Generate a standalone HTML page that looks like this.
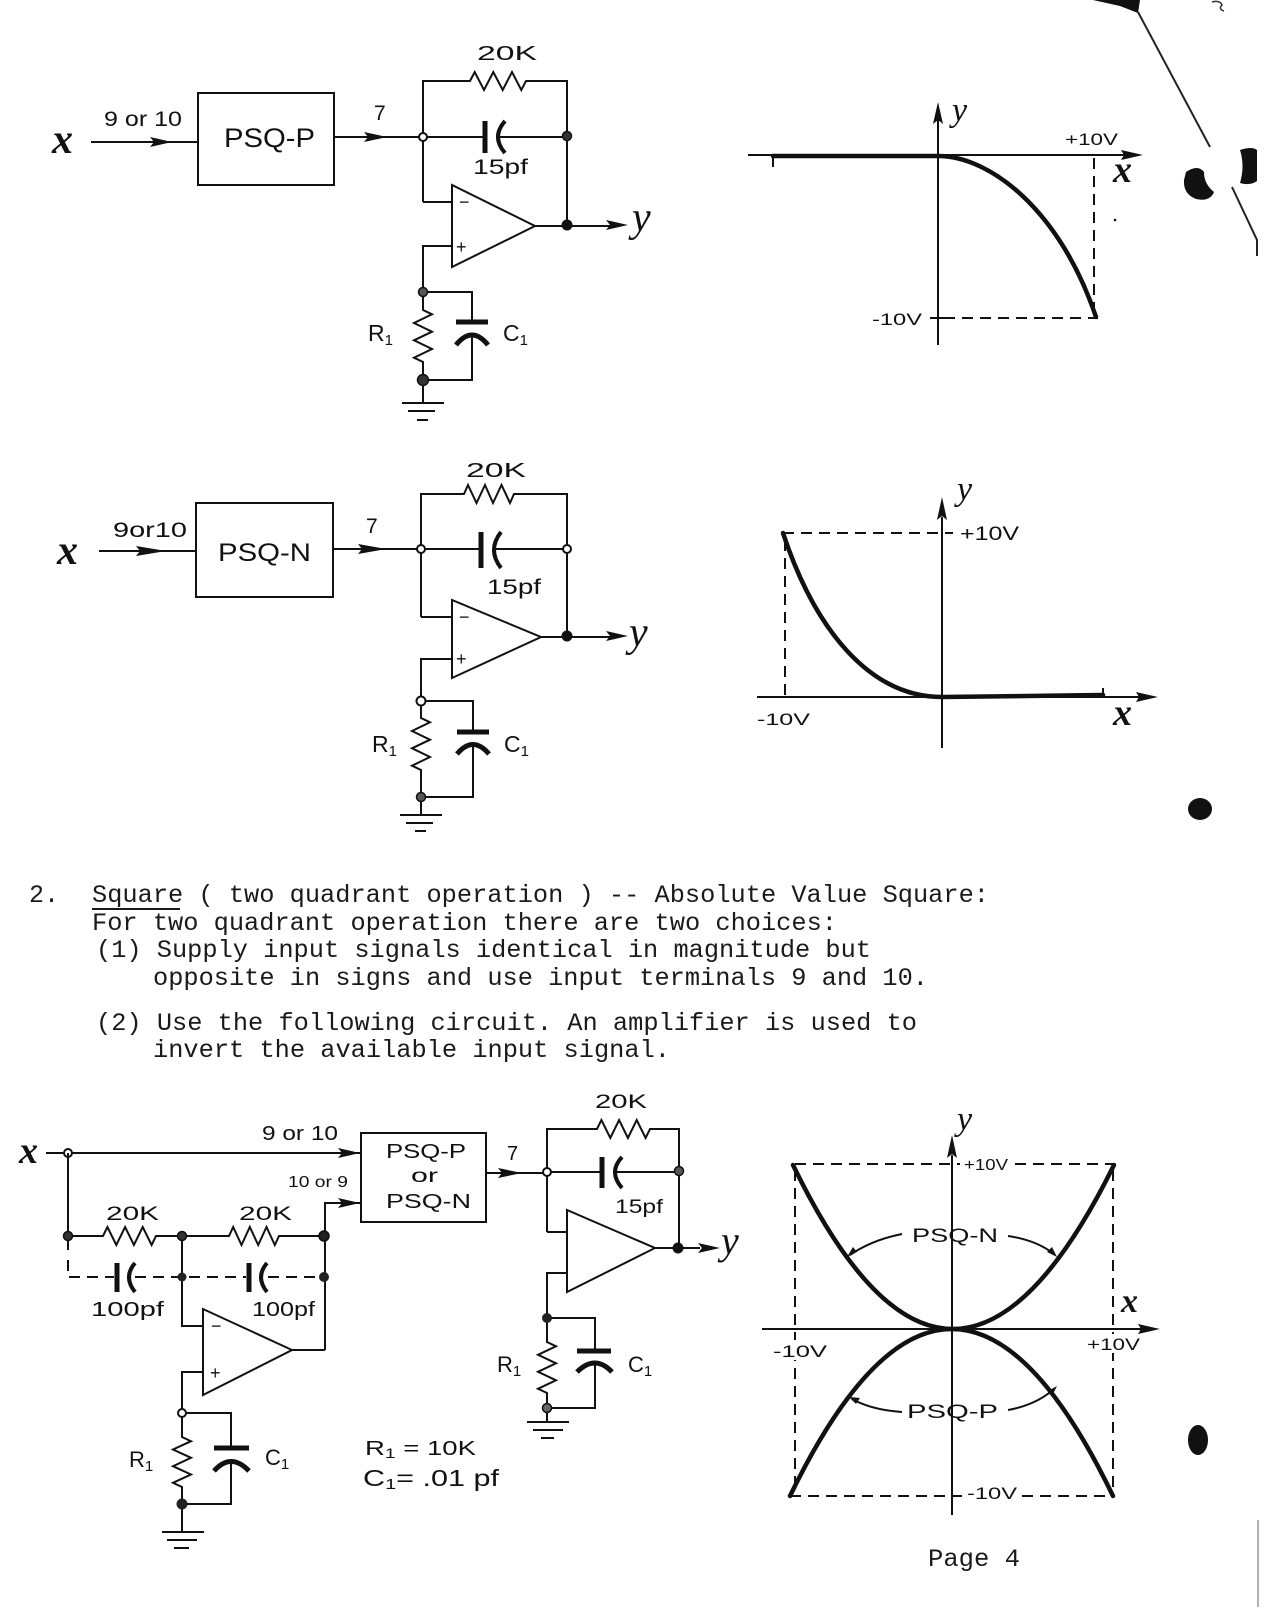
<!DOCTYPE html>
<html><head><meta charset="utf-8"><style>
html,body{margin:0;padding:0;background:#fff;}
svg{display:block;}
.l{stroke:#111;stroke-width:2;fill:none;}
.t{stroke:#111;stroke-width:4.5;fill:none;stroke-linecap:round;}
.d{stroke:#111;stroke-width:2;fill:none;stroke-dasharray:11,7;}
.s{font-family:"Liberation Sans",sans-serif;fill:#111;}
.m{font-family:"Liberation Mono",monospace;fill:#1a1a1a;font-size:25px;}
.i{font-family:"Liberation Serif",serif;font-style:italic;fill:#111;}
.xb{font-weight:bold;}
</style></head><body>
<svg width="1275" height="1619" viewBox="0 0 1275 1619" xmlns="http://www.w3.org/2000/svg">
<rect width="1275" height="1619" fill="#fff"/>

<!-- ===== Circuit A (top) ===== -->
<text class="i xb" x="52" y="153" font-size="42">x</text>
<line class="l" x1="91" y1="142" x2="198" y2="142"/>
<polygon points="172,142 150,137 154,142 150,147" fill="#111"/>
<text class="s" x="104" y="126" font-size="21" textLength="78" lengthAdjust="spacingAndGlyphs">9 or 10</text>
<rect class="l" x="198" y="93" width="136" height="92"/>
<text class="s" x="224" y="147" font-size="27" textLength="91" lengthAdjust="spacingAndGlyphs">PSQ-P</text>
<line class="l" x1="334" y1="137" x2="423" y2="137"/>
<polygon points="387,137 364,132 368,137 364,142" fill="#111"/>
<text class="s" x="374" y="120" font-size="21">7</text>
<polyline class="l" points="423,202 423,81 470,81 474.7,72 484,90 493.3,72 502.7,90 512,72 521.3,90 526,81 567,81 567,224"/>
<text class="s" x="477" y="60" font-size="20" textLength="60" lengthAdjust="spacingAndGlyphs">20K</text>
<line class="l" x1="423" y1="137" x2="483" y2="137"/>
<line x1="485" y1="121" x2="485" y2="153" stroke="#111" stroke-width="5"/>
<path d="M505,121 Q491,137 505,153" stroke="#111" stroke-width="4" fill="none"/>
<line class="l" x1="498" y1="137" x2="567" y2="137"/>
<text class="s" x="473" y="174" font-size="21" textLength="55" lengthAdjust="spacingAndGlyphs">15pf</text>
<circle cx="423" cy="137" r="4" fill="#fff" stroke="#111" stroke-width="2"/>
<circle cx="567" cy="136" r="4.5" fill="#333" stroke="#111" stroke-width="1.5"/>
<polyline class="l" points="423,202 452,202"/>
<polygon class="l" points="452,185 452,267 535,226"/>
<text class="s" x="459" y="208" font-size="18">−</text>
<text class="s" x="456" y="253" font-size="18">+</text>
<polyline class="l" points="452,246 423,246 423,310 432,314.3 414,323 432,331.7 414,340.3 432,349 414,357.7 423,362 423,403"/>
<line class="l" x1="535" y1="226" x2="610" y2="226"/>
<circle cx="567" cy="225" r="5.5" fill="#111"/>
<polygon points="628,225 606,220 610,225 606,230" fill="#111"/>
<text class="i" x="632" y="231" font-size="42">y</text>
<polyline class="l" points="423,292 472,292 472,322"/>
<line x1="456" y1="322" x2="488" y2="322" stroke="#111" stroke-width="5"/>
<path d="M456,345 Q472,325 488,345" stroke="#111" stroke-width="5" fill="none"/>
<polyline class="l" points="472,335 472,380 423,380"/>
<circle cx="423" cy="292" r="4.5" fill="#555" stroke="#111" stroke-width="1.5"/>
<circle cx="423" cy="380" r="5.5" fill="#333" stroke="#111" stroke-width="1.5"/>
<line class="l" x1="402" y1="403" x2="444" y2="403" stroke-width="2.5"/>
<line class="l" x1="408" y1="411" x2="435" y2="411" stroke-width="2.5"/>
<line class="l" x1="417" y1="420" x2="428" y2="420" stroke-width="3"/>
<text class="s" x="368" y="341" font-size="23">R<tspan font-size="15" dy="4">1</tspan></text>
<text class="s" x="503" y="341" font-size="23">C<tspan font-size="15" dy="4">1</tspan></text>

<!-- ===== Graph A ===== -->
<line class="l" x1="748" y1="155" x2="1126" y2="155"/>
<polygon points="1143,155 1121,150 1124,155 1121,160" fill="#111"/>
<path class="t" d="M773,156 L938,156 C990,156 1060,210 1096,317"/>
<line class="l" x1="773" y1="156" x2="773" y2="167"/>
<line class="l" x1="938" y1="120" x2="938" y2="345"/>
<polygon points="938,102 933,124 938,120 943,124" fill="#111"/>
<text class="i" x="952" y="121" font-size="34">y</text>
<text class="s" x="1065" y="145" font-size="17" textLength="53" lengthAdjust="spacingAndGlyphs">+10V</text>
<text class="i xb" x="1113" y="182" font-size="38">x</text>
<line class="d" x1="1094" y1="158" x2="1094" y2="315"/>
<line class="d" x1="944" y1="318" x2="1098" y2="318"/>
<line class="l" x1="930" y1="318" x2="946" y2="318"/>
<text class="s" x="872" y="325" font-size="17" textLength="50" lengthAdjust="spacingAndGlyphs">-10V</text>
<circle cx="1115" cy="220" r="1.3" fill="#111"/>

<!-- ===== Circuit B (middle) ===== -->
<text class="i xb" x="57" y="564" font-size="42">x</text>
<line class="l" x1="99" y1="551" x2="196" y2="551"/>
<polygon points="166,551 136,546 140,551 136,556" fill="#111"/>
<text class="s" x="113" y="537" font-size="21" textLength="74" lengthAdjust="spacingAndGlyphs">9or10</text>
<rect class="l" x="196" y="503" width="137" height="94"/>
<text class="s" x="218" y="561" font-size="25" textLength="93" lengthAdjust="spacingAndGlyphs">PSQ-N</text>
<line class="l" x1="333" y1="549" x2="421" y2="549"/>
<polygon points="386,549 358,544 362,549 358,554" fill="#111"/>
<text class="s" x="366" y="533" font-size="21">7</text>
<polyline class="l" points="421,617 421,494 464,494 468,485 476.5,503 485,485 493,503 501.5,485 510,503 514,494 567,494 567,637"/>
<text class="s" x="466" y="477" font-size="20" textLength="60" lengthAdjust="spacingAndGlyphs">20K</text>
<line class="l" x1="421" y1="549" x2="479" y2="549"/>
<line x1="481" y1="532" x2="481" y2="568" stroke="#111" stroke-width="5"/>
<path d="M501,532 Q487,550 501,568" stroke="#111" stroke-width="4" fill="none"/>
<line class="l" x1="494" y1="549" x2="567" y2="549"/>
<text class="s" x="487" y="594" font-size="21" textLength="54" lengthAdjust="spacingAndGlyphs">15pf</text>
<circle cx="421" cy="549" r="4" fill="#fff" stroke="#111" stroke-width="2"/>
<circle cx="567" cy="549" r="4" fill="#fff" stroke="#111" stroke-width="2"/>
<line class="l" x1="421" y1="617" x2="452" y2="617"/>
<polygon class="l" points="452,600 452,678 541,637"/>
<text class="s" x="459" y="623" font-size="18">−</text>
<text class="s" x="456" y="665" font-size="18">+</text>
<polyline class="l" points="452,659 421,659 421,718 430,722.3 412,731 430,739.7 412,748.3 430,757 412,765.7 421,770 421,815"/>
<line class="l" x1="541" y1="637" x2="610" y2="637"/>
<circle cx="567" cy="636" r="5.5" fill="#111"/>
<polygon points="628,636 606,631 610,636 606,641" fill="#111"/>
<text class="i" x="629" y="646" font-size="42">y</text>
<polyline class="l" points="421,701 473,701 473,732"/>
<line x1="457" y1="732" x2="489" y2="732" stroke="#111" stroke-width="5"/>
<path d="M457,754 Q473,735 489,754" stroke="#111" stroke-width="5" fill="none"/>
<polyline class="l" points="473,744 473,797 421,797"/>
<circle cx="421" cy="701" r="4.5" fill="#fff" stroke="#111" stroke-width="2"/>
<circle cx="421" cy="797" r="4.5" fill="#555" stroke="#111" stroke-width="1.5"/>
<line class="l" x1="400" y1="815" x2="442" y2="815" stroke-width="2.5"/>
<line class="l" x1="406" y1="823" x2="433" y2="823" stroke-width="2.5"/>
<line class="l" x1="415" y1="831" x2="426" y2="831" stroke-width="3"/>
<text class="s" x="372" y="752" font-size="23">R<tspan font-size="15" dy="4">1</tspan></text>
<text class="s" x="504" y="752" font-size="23">C<tspan font-size="15" dy="4">1</tspan></text>

<!-- ===== Graph B ===== -->
<line class="l" x1="757" y1="697" x2="1140" y2="697"/>
<polygon points="1158,697 1136,692 1139,697 1136,702" fill="#111"/>
<line class="l" x1="942" y1="517" x2="942" y2="748"/>
<polygon points="942,497 937,520 942,516 947,520" fill="#111"/>
<text class="i" x="957" y="500" font-size="34">y</text>
<text class="s" x="960" y="540" font-size="19" textLength="59" lengthAdjust="spacingAndGlyphs">+10V</text>
<line class="d" x1="783" y1="533" x2="953" y2="533"/>
<line class="d" x1="785" y1="540" x2="785" y2="697"/>
<path class="t" d="M783,533 C815,630 870,697 942,697 L1103,695"/>
<line class="l" x1="1103" y1="688" x2="1103" y2="697"/>
<text class="s" x="757" y="725" font-size="17" textLength="53" lengthAdjust="spacingAndGlyphs">-10V</text>
<text class="i xb" x="1113" y="725" font-size="38">x</text>

<!-- ===== Text ===== -->
<text class="m" x="29" y="902">2.</text>
<text class="m" x="92" y="902" textLength="897" lengthAdjust="spacingAndGlyphs">Square ( two quadrant operation ) -- Absolute Value Square:</text>
<line x1="92" y1="909" x2="180" y2="909" stroke="#1a1a1a" stroke-width="2"/>
<text class="m" x="92" y="930" textLength="745" lengthAdjust="spacingAndGlyphs">For two quadrant operation there are two choices:</text>
<text class="m" x="96" y="957" textLength="775" lengthAdjust="spacingAndGlyphs">(1) Supply input signals identical in magnitude but</text>
<text class="m" x="153" y="985" textLength="775" lengthAdjust="spacingAndGlyphs">opposite in signs and use input terminals 9 and 10.</text>
<text class="m" x="96" y="1030" textLength="821" lengthAdjust="spacingAndGlyphs">(2) Use the following circuit. An amplifier is used to</text>
<text class="m" x="153" y="1057" textLength="517" lengthAdjust="spacingAndGlyphs">invert the available input signal.</text>

<!-- ===== Circuit C (bottom left) ===== -->
<text class="i xb" x="19" y="1163" font-size="38">x</text>
<line class="l" x1="46" y1="1153" x2="361" y2="1153"/>
<polygon points="360,1153 338,1148 342,1153 338,1158" fill="#111"/>
<circle cx="68" cy="1153" r="4" fill="#fff" stroke="#111" stroke-width="2"/>
<text class="s" x="262" y="1140" font-size="20" textLength="76" lengthAdjust="spacingAndGlyphs">9 or 10</text>
<rect class="l" x="361" y="1133" width="125" height="89"/>
<text class="s" x="386" y="1158" font-size="20" textLength="80" lengthAdjust="spacingAndGlyphs">PSQ-P</text>
<text class="s" x="411" y="1182" font-size="19" textLength="27" lengthAdjust="spacingAndGlyphs">or</text>
<text class="s" x="386" y="1208" font-size="20" textLength="85" lengthAdjust="spacingAndGlyphs">PSQ-N</text>
<text class="s" x="288" y="1187" font-size="16" textLength="60" lengthAdjust="spacingAndGlyphs">10 or 9</text>
<polyline class="l" points="325,1350 325,1203 361,1203"/>
<polygon points="360,1203 338,1198 342,1203 338,1208" fill="#111"/>
<line class="l" x1="68" y1="1153" x2="68" y2="1250"/>
<polyline class="l" points="68,1236 103,1236 107.4,1227 116.3,1245 125.1,1227 133.9,1245 142.7,1227 151.6,1245 156,1236 229,1236 233.2,1227 241.5,1245 249.8,1227 258.2,1245 266.5,1227 274.8,1245 279,1236 325,1236"/>
<text class="s" x="106" y="1220" font-size="19" textLength="53" lengthAdjust="spacingAndGlyphs">20K</text>
<text class="s" x="239" y="1220" font-size="19" textLength="53" lengthAdjust="spacingAndGlyphs">20K</text>
<path class="d" d="M68,1260 L68,1277 L114,1277" stroke-dasharray="9,7"/>
<line x1="117" y1="1263" x2="117" y2="1292" stroke="#111" stroke-width="5"/>
<path d="M135,1263 Q123,1277 135,1292" stroke="#111" stroke-width="4" fill="none"/>
<line class="d" x1="135" y1="1277" x2="246" y2="1277" stroke-dasharray="9,7"/>
<line x1="249" y1="1263" x2="249" y2="1292" stroke="#111" stroke-width="5"/>
<path d="M267,1263 Q255,1277 267,1292" stroke="#111" stroke-width="4" fill="none"/>
<line class="d" x1="268" y1="1277" x2="324" y2="1277" stroke-dasharray="9,7"/>
<text class="s" x="91" y="1316" font-size="20" textLength="73" lengthAdjust="spacingAndGlyphs">100pf</text>
<text class="s" x="252" y="1316" font-size="20" textLength="63" lengthAdjust="spacingAndGlyphs">100pf</text>
<polyline class="l" points="182,1236 182,1326 203,1326"/>
<circle cx="68" cy="1236" r="4.5" fill="#333" stroke="#111" stroke-width="1.5"/>
<circle cx="182" cy="1236" r="4.5" fill="#333" stroke="#111" stroke-width="1.5"/>
<circle cx="324" cy="1236" r="5" fill="#222" stroke="#111" stroke-width="1.5"/>
<circle cx="182" cy="1277" r="4.5" fill="#222"/>
<circle cx="324" cy="1277" r="5" fill="#222"/>
<polygon class="l" points="203,1309 203,1395 292,1350"/>
<text class="s" x="211" y="1332" font-size="18">−</text>
<text class="s" x="210" y="1379" font-size="18">+</text>
<line class="l" x1="292" y1="1350" x2="325" y2="1350"/>
<polyline class="l" points="203,1372 182,1372 182,1437 191,1441.2 173,1449.5 191,1457.8 173,1466.2 191,1474.5 173,1482.8 182,1487 182,1532"/>
<polyline class="l" points="182,1413 231,1413 231,1448"/>
<line x1="214" y1="1448" x2="249" y2="1448" stroke="#111" stroke-width="5"/>
<path d="M214,1471 Q231,1452 249,1471" stroke="#111" stroke-width="5" fill="none"/>
<polyline class="l" points="231,1461 231,1504 182,1504"/>
<circle cx="182" cy="1413" r="4" fill="#fff" stroke="#111" stroke-width="2"/>
<circle cx="182" cy="1504" r="5.5" fill="#222"/>
<line class="l" x1="162" y1="1532" x2="204" y2="1532" stroke-width="2.5"/>
<line class="l" x1="167" y1="1540" x2="197" y2="1540" stroke-width="2.5"/>
<line class="l" x1="174" y1="1548" x2="189" y2="1548" stroke-width="3"/>
<text class="s" x="129" y="1467" font-size="22">R<tspan font-size="15" dy="4">1</tspan></text>
<text class="s" x="265" y="1465" font-size="22">C<tspan font-size="15" dy="4">1</tspan></text>
<text class="s" x="365" y="1455" font-size="20" textLength="111" lengthAdjust="spacingAndGlyphs">R<tspan font-size="14" dy="3">1</tspan><tspan dy="-3"> = 10K</tspan></text>
<text class="s" x="363" y="1486" font-size="23" textLength="136" lengthAdjust="spacingAndGlyphs">C<tspan font-size="15" dy="3">1</tspan><tspan dy="-3">= .01 pf</tspan></text>

<!-- ===== Circuit D (bottom right opamp) ===== -->
<line class="l" x1="486" y1="1173" x2="547" y2="1173"/>
<polygon points="522,1173 498,1168 502,1173 498,1178" fill="#111"/>
<text class="s" x="507" y="1160" font-size="20">7</text>
<polyline class="l" points="547,1232 547,1129 597,1129 601.4,1120 610.3,1138 619.1,1120 627.9,1138 636.7,1120 645.6,1138 650,1129 679,1129 679,1248"/>
<text class="s" x="595" y="1108" font-size="19" textLength="52" lengthAdjust="spacingAndGlyphs">20K</text>
<line class="l" x1="547" y1="1172" x2="600" y2="1172"/>
<line x1="602" y1="1157" x2="602" y2="1188" stroke="#111" stroke-width="5"/>
<path d="M622,1157 Q608,1172 622,1188" stroke="#111" stroke-width="4" fill="none"/>
<line class="l" x1="615" y1="1172" x2="679" y2="1172"/>
<text class="s" x="615" y="1213" font-size="19" textLength="48" lengthAdjust="spacingAndGlyphs">15pf</text>
<circle cx="547" cy="1172" r="4" fill="#fff" stroke="#111" stroke-width="2"/>
<circle cx="679" cy="1171" r="4.5" fill="#555" stroke="#111" stroke-width="1.5"/>
<line class="l" x1="547" y1="1232" x2="567" y2="1232"/>
<polygon class="l" points="567,1210 567,1292 655,1248"/>
<line class="l" x1="655" y1="1248" x2="700" y2="1248"/>
<circle cx="678" cy="1248" r="5.5" fill="#111"/>
<polygon points="720,1248 698,1243 702,1248 698,1253" fill="#111"/>
<text class="i" x="721" y="1254" font-size="40">y</text>
<polyline class="l" points="567,1273 547,1273 547,1342 556,1346.3 538,1354.8 556,1363.3 538,1371.8 556,1380.3 538,1388.8 547,1393 547,1422"/>
<polyline class="l" points="547,1318 595,1318 595,1351"/>
<line x1="577" y1="1351" x2="611" y2="1351" stroke="#111" stroke-width="5"/>
<path d="M577,1372 Q595,1354 612,1372" stroke="#111" stroke-width="5" fill="none"/>
<polyline class="l" points="595,1363 595,1408 547,1408"/>
<circle cx="547" cy="1318" r="5" fill="#222"/>
<circle cx="547" cy="1408" r="4.5" fill="#666" stroke="#111" stroke-width="1.5"/>
<line class="l" x1="527" y1="1422" x2="569" y2="1422" stroke-width="2.5"/>
<line class="l" x1="533" y1="1430" x2="563" y2="1430" stroke-width="2.5"/>
<line class="l" x1="541" y1="1438" x2="554" y2="1438" stroke-width="3"/>
<text class="s" x="497" y="1372" font-size="22">R<tspan font-size="15" dy="4">1</tspan></text>
<text class="s" x="628" y="1372" font-size="22">C<tspan font-size="15" dy="4">1</tspan></text>

<!-- ===== Graph C ===== -->
<line class="l" x1="952" y1="1155" x2="952" y2="1515"/>
<polygon points="952,1135 947,1158 952,1154 957,1158" fill="#111"/>
<text class="i" x="957" y="1130" font-size="34">y</text>
<line class="l" x1="762" y1="1329" x2="1144" y2="1329"/>
<polygon points="1160,1329 1138,1324 1141,1329 1138,1334" fill="#111"/>
<text class="i xb" x="1121" y="1312" font-size="34">x</text>
<line class="d" x1="795" y1="1164" x2="960" y2="1164"/>
<line class="d" x1="1015" y1="1164" x2="1115" y2="1164"/>
<line class="d" x1="790" y1="1496" x2="962" y2="1496"/>
<line class="d" x1="1022" y1="1496" x2="1113" y2="1496"/>
<line class="d" x1="795" y1="1170" x2="795" y2="1494"/>
<line class="d" x1="1113" y1="1170" x2="1113" y2="1494"/>
<rect x="771" y="1340" width="58" height="20" fill="#fff"/>
<rect x="1085" y="1334" width="57" height="19" fill="#fff"/>
<text class="s" x="964" y="1170" font-size="16" textLength="44" lengthAdjust="spacingAndGlyphs">+10V</text>
<text class="s" x="773" y="1357" font-size="17" textLength="54" lengthAdjust="spacingAndGlyphs">-10V</text>
<text class="s" x="1087" y="1350" font-size="17" textLength="53" lengthAdjust="spacingAndGlyphs">+10V</text>
<text class="s" x="967" y="1499" font-size="17" textLength="50" lengthAdjust="spacingAndGlyphs">-10V</text>
<path class="t" d="M793,1165 Q952,1493 1114,1165"/>
<path class="t" d="M790,1496 Q952,1162 1113,1496"/>
<text class="s" x="912" y="1242" font-size="19" textLength="86" lengthAdjust="spacingAndGlyphs">PSQ-N</text>
<text class="s" x="907" y="1418" font-size="19" textLength="91" lengthAdjust="spacingAndGlyphs">PSQ-P</text>
<path class="l" d="M902,1234 Q872,1240 850,1255"/>
<polygon points="847,1257 853,1247 857,1252" fill="#111"/>
<path class="l" d="M1008,1236 Q1036,1240 1054,1254"/>
<polygon points="1057,1257 1047,1252 1052,1247" fill="#111"/>
<path class="l" d="M902,1412 Q872,1410 852,1399"/>
<polygon points="849,1397 860,1398 856,1404" fill="#111"/>
<path class="l" d="M1008,1410 Q1036,1405 1054,1389"/>
<polygon points="1057,1386 1052,1396 1048,1391" fill="#111"/>

<text class="m" x="928" y="1566" textLength="92" lengthAdjust="spacingAndGlyphs">Page 4</text>

<!-- ===== Page artifacts ===== -->
<polygon points="1093,0 1140,0 1138,13 1120,6" fill="#111"/>
<line x1="1138" y1="12" x2="1210" y2="147" stroke="#222" stroke-width="2"/>
<polyline points="1232,187 1257,240 1257,256" stroke="#222" stroke-width="2" fill="none"/>
<path d="M1212,2 q8,-2 10,3 q-4,4 2,6" stroke="#333" stroke-width="1.5" fill="none"/>
<path d="M1186,172 Q1198,164 1204,172 Q1204,184 1214,192 Q1210,202 1196,199 Q1183,194 1184,180 Z" fill="#111"/>
<path d="M1240,150 Q1252,146 1257,150 L1257,181 Q1250,186 1240,183 Q1245,166 1240,150 Z" fill="#111"/>
<ellipse cx="1200" cy="809" rx="12" ry="11" fill="#111"/>
<ellipse cx="1198" cy="1440" rx="10" ry="15" fill="#111"/>
<line x1="1258" y1="1520" x2="1258" y2="1607" stroke="#999" stroke-width="1.5"/>
</svg>
</body></html>
